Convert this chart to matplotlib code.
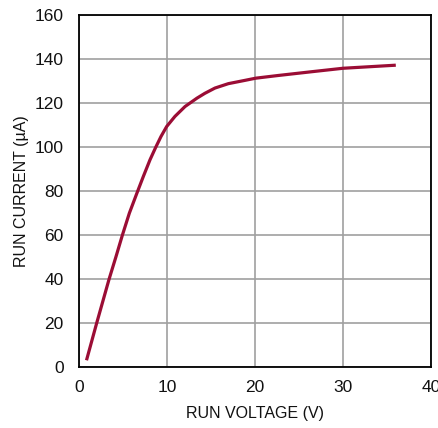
import matplotlib
matplotlib.use("Agg")
import matplotlib.pyplot as plt

# values
run_voltage = [0.85, 2.0, 3.41, 4.2, 4.92, 5.72, 6.55, 7.31, 8.07, 8.71,
               9.32, 9.96, 10.9, 12.05, 13.4, 14.3, 15.45, 16.97, 18.86,
               20.1, 22.6, 26.6, 30.0, 36.0]
run_current = [3.2, 20.0, 40.0, 50.3, 60.0, 70.1, 78.9, 86.8, 94.4, 100.0,
               105.0, 109.5, 114.1, 118.6, 122.4, 124.6, 127.0, 129.0, 130.5,
               131.5, 132.7, 134.5, 136.0, 137.4]

x_ticks = [0, 10, 20, 30, 40]
y_ticks = [0, 20, 40, 60, 80, 100, 120, 140, 160]

plt.rcParams['font.family'] = ['Liberation Sans', 'DejaVu Sans']

fig = plt.figure(figsize=(4.38, 4.28), dpi=100)
ax = fig.add_axes([0.1804, 0.1418, 0.8036, 0.822])

ax.plot(run_voltage, run_current, color='#9b0d35', lw=2.3,
        solid_capstyle='butt', solid_joinstyle='round', zorder=3)

ax.set_xlim(0, 40)
ax.set_ylim(0, 160)
ax.set_xticks(x_ticks)
ax.set_yticks(y_ticks)
ax.grid(True, color='#a0a0a0', lw=1.2)
ax.tick_params(length=0, labelsize=12.5, colors='#111111')
ax.tick_params(axis='y', pad=11)
ax.tick_params(axis='x', pad=9)
for s in ax.spines.values():
    s.set_linewidth(1.3)
    s.set_color('black')

ax.set_xlabel('RUN VOLTAGE (V)', fontsize=11.5, color='#111111', labelpad=8)
ax.set_ylabel('RUN CURRENT (µA)', fontsize=11.5, color='#111111', labelpad=4)

fig.savefig('out.png', dpi=100)
